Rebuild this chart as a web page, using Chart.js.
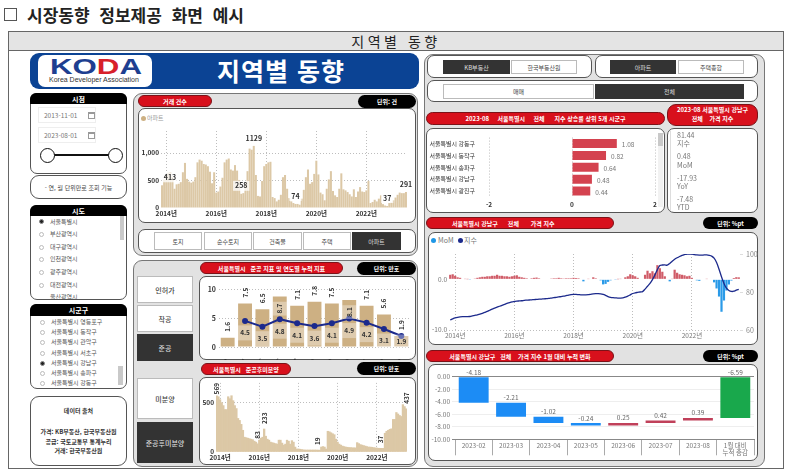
<!DOCTYPE html>
<html lang="ko">
<head>
<meta charset="utf-8">
<title>시장동향 정보제공 화면 예시</title>
<script src="https://cdn.jsdelivr.net/npm/chart.js@4"></script>
<style>
  html, body { margin:0; padding:0; background:#fff; }
  body { width:800px; height:475px; overflow:hidden; position:relative; font-family:"Noto Sans CJK KR","Noto Sans",sans-serif; color:#333; }
  .a { position:absolute; box-sizing:border-box; }
  .t { position:absolute; white-space:pre; line-height:1; }
  .c { display:flex; align-items:center; justify-content:center; white-space:pre; }
  .gray { background:#e2e2e2; border:1px solid #777; border-radius:9px; }
  .white { background:#fff; border:1px solid #555; border-radius:7px; }
  .red { background:#d8101c; border:1px solid #7c1218; border-radius:7px; color:#fff; font-size:6px; font-weight:700; }
  .black { background:#000; border-radius:7px; color:#fff; font-size:6px; font-weight:700; }
  .btn { background:#fff; border:1px solid #bbb; font-size:6px; color:#444; }
  .big { font-size:7px; font-weight:500; }
  .on { background:#333; border-color:#333; color:#ddd; }
  .head { background:#000; color:#fff; font-size:7px; font-weight:700; border-radius:6px 6px 0 0; }
  .date { background:#fff; border:1px solid #eee; font-size:6.5px; color:#777; padding-left:5px; display:flex; align-items:center; }
  .ico { position:absolute; width:5px; height:4px; border:1px solid #999; border-top-width:2px; }
  .radio { position:absolute; width:5px; height:5px; border:1px solid #bbb; border-radius:50%; background:#fff; box-sizing:border-box; }
  .radio.sel { background:#222; border-color:#888; }
  .li { position:absolute; font-size:6px; color:#555; line-height:1; white-space:pre; }
  .kpi { position:absolute; left:677px; font-size:7px; color:#777; line-height:1; }
  canvas { position:absolute; display:block; }
</style>
</head>
<body>
<!-- 상단 제목 -->
<div class="a" style="left:4px;top:8px;width:13px;height:13px;border:1px solid #555"></div>
<div class="t" style="left:27px;top:6px;font-size:17px;font-weight:700;color:#222;word-spacing:5px">시장동향 정보제공 화면 예시</div>

<div class="a" style="left:8px;top:31px;width:776px;height:438px;border:1px solid #666"></div>
<div class="a c" style="left:8px;top:31px;width:776px;height:20px;background:#e4e4e4;border:1px solid #666;font-size:14px;letter-spacing:3.5px;color:#222">지역별 동향</div>

<!-- 배너 -->
<div class="a" style="left:30px;top:53px;width:389px;height:36px;background:#0b4394;border-radius:9px"></div>
<div class="a" style="left:38px;top:55px;width:114px;height:32px;background:#fff;border-radius:7px"></div>
<div class="t" style="left:50px;top:56px;font-size:22px;font-weight:700;color:#1e3f90;font-family:'Liberation Sans';transform:scaleX(1.42);transform-origin:left top">KO<span style="color:#d8202a">D</span>A</div>
<div class="t" style="left:49px;top:76px;font-size:7px;color:#333;font-family:'Liberation Sans'">Korea Developer Association</div>
<div class="t" style="left:217px;top:58px;font-size:25px;font-weight:700;color:#fff;letter-spacing:1px">지역별 동향</div>

<!-- 왼쪽 필터 -->
<div class="a white" style="left:30px;top:93px;width:97px;height:81px;border-radius:7px"></div>
<div class="a head c" style="left:30px;top:93px;width:97px;height:11px">시점</div>
<div class="a date" style="left:38px;top:107px;width:58px;height:16px">2013-11-01</div><div class="ico" style="left:88px;top:112px"></div>
<div class="a date" style="left:38px;top:127px;width:58px;height:16px">2023-08-01</div><div class="ico" style="left:88px;top:132px"></div>
<div class="a" style="left:47px;top:154px;width:68px;height:2px;background:#111"></div>
<div class="a" style="left:40px;top:148px;width:15px;height:15px;border:1.5px solid #111;border-radius:50%;background:#fff"></div>
<div class="a" style="left:108px;top:148px;width:15px;height:15px;border:1.5px solid #111;border-radius:50%;background:#fff"></div>

<div class="a white c" style="left:30px;top:175px;width:97px;height:24px;border-radius:9px;font-size:6px;color:#444">- 연, 월 단위만로 조회 기능</div>

<div class="a white" style="left:30px;top:205px;width:97px;height:95px;overflow:hidden"></div>
<div class="a head c" style="left:30px;top:205px;width:97px;height:11px">시도</div>
<div class="a" style="left:120px;top:216px;width:4px;height:24px;background:#c9c9c9"></div>
<div class="radio sel" style="left:39px;top:219px"></div><div class="li" style="left:50px;top:219px">서울특별시</div>
<div class="radio" style="left:39px;top:232px"></div><div class="li" style="left:50px;top:231px">부산광역시</div>
<div class="radio" style="left:39px;top:245px"></div><div class="li" style="left:50px;top:244px">대구광역시</div>
<div class="radio" style="left:39px;top:257px"></div><div class="li" style="left:50px;top:256px">인천광역시</div>
<div class="radio" style="left:39px;top:270px"></div><div class="li" style="left:50px;top:269px">광주광역시</div>
<div class="radio" style="left:39px;top:283px"></div><div class="li" style="left:50px;top:282px">대전광역시</div>
<div class="a" style="left:38px;top:294px;width:80px;height:5px;overflow:hidden"><div class="li" style="left:12px;top:0">울산광역시</div></div>

<div class="a white" style="left:30px;top:304px;width:97px;height:85px"></div>
<div class="a head c" style="left:30px;top:304px;width:97px;height:12px">시군구</div>
<div class="a" style="left:118px;top:366px;width:5px;height:19px;background:#c9c9c9"></div>
<div class="radio" style="left:40px;top:320px"></div><div class="li" style="left:51px;top:319px">서울특별시 영등포구</div>
<div class="radio" style="left:40px;top:330px"></div><div class="li" style="left:51px;top:329px">서울특별시 동작구</div>
<div class="radio" style="left:40px;top:340px"></div><div class="li" style="left:51px;top:339px">서울특별시 관악구</div>
<div class="radio" style="left:40px;top:351px"></div><div class="li" style="left:51px;top:350px">서울특별시 서초구</div>
<div class="radio sel" style="left:40px;top:361px"></div><div class="li" style="left:51px;top:360px">서울특별시 강남구</div>
<div class="radio" style="left:40px;top:371px"></div><div class="li" style="left:51px;top:370px">서울특별시 송파구</div>
<div class="radio" style="left:40px;top:381px"></div><div class="li" style="left:51px;top:380px">서울특별시 강동구</div>

<div class="a white" style="left:30px;top:396px;width:97px;height:70px;border-radius:9px"></div>
<div class="t" style="left:30px;width:97px;top:408px;text-align:center;font-size:6px;font-weight:700;color:#333">데이터 출처</div>
<div class="t" style="left:30px;width:97px;top:429px;text-align:center;font-size:6px;font-weight:700;color:#333">가격: KB부동산, 한국부동산원</div>
<div class="t" style="left:30px;width:97px;top:439px;text-align:center;font-size:6px;font-weight:700;color:#333">공급: 국토교통부 통계누리</div>
<div class="t" style="left:30px;width:97px;top:448px;text-align:center;font-size:6px;font-weight:700;color:#333">거래: 한국부동산원</div>

<!-- 거래 건수 -->
<div class="a gray" style="left:133px;top:93px;width:285px;height:163px"></div>
<div class="a red c" style="left:138px;top:95px;width:74px;height:12px">거래 건수</div>
<div class="a black c" style="left:358px;top:95px;width:58px;height:13px">단위: 건</div>
<div class="a white" style="left:138px;top:108px;width:278px;height:115px"></div>
<div class="a" style="left:141px;top:116px;width:5px;height:5px;border-radius:50%;background:#cdb083"></div>
<div class="t" style="left:147px;top:115px;font-size:6px;color:#999">아파트</div>
<canvas id="dealChart" width="278" height="115" style="left:138px;top:108px"></canvas>
<div class="a white" style="left:138px;top:229px;width:278px;height:24px"></div>
<div class="a btn c" style="left:154px;top:232px;width:48px;height:18px">토지</div>
<div class="a btn c" style="left:204px;top:232px;width:48px;height:18px">순수토지</div>
<div class="a btn c" style="left:253px;top:232px;width:49px;height:18px">건축물</div>
<div class="a btn c" style="left:303px;top:232px;width:48px;height:18px">주택</div>
<div class="a btn on c" style="left:352px;top:232px;width:49px;height:18px">아파트</div>

<!-- 준공 -->
<div class="a gray" style="left:133px;top:260px;width:285px;height:207px"></div>
<div class="a red c" style="left:200px;top:262px;width:143px;height:12px;font-size:6px">서울특별시   준공 지표 및 연도별 누적 지표</div>
<div class="a black c" style="left:357px;top:262px;width:59px;height:13px">단위: 만호</div>
<div class="a btn big c" style="left:137px;top:276px;width:56px;height:27px">인허가</div>
<div class="a btn big c" style="left:137px;top:305px;width:56px;height:27px">착공</div>
<div class="a btn big on c" style="left:137px;top:334px;width:56px;height:27px">준공</div>
<div class="a white" style="left:199px;top:276px;width:217px;height:84px"></div>
<canvas id="doneChart" width="217" height="84" style="left:199px;top:276px"></canvas>
<div class="a red c" style="left:201px;top:363px;width:90px;height:12px">서울특별시   준공후미분양</div>
<div class="a black c" style="left:357px;top:362px;width:59px;height:13px">단위: 만호</div>
<div class="a btn big c" style="left:137px;top:378px;width:56px;height:41px">미분양</div>
<div class="a btn big on c" style="left:137px;top:422px;width:56px;height:41px">준공후미분양</div>
<div class="a white" style="left:199px;top:377px;width:217px;height:88px"></div>
<canvas id="unsoldChart" width="217" height="88" style="left:199px;top:377px"></canvas>

<!-- 오른쪽 -->
<div class="a gray" style="left:424px;top:54px;width:341px;height:413px"></div>
<div class="a white" style="left:427px;top:55px;width:165px;height:23px"></div>
<div class="a btn on c" style="left:443px;top:60px;width:67px;height:14px">KB부동산</div>
<div class="a btn c" style="left:511px;top:60px;width:66px;height:14px">한국부동산원</div>
<div class="a white" style="left:595px;top:55px;width:163px;height:23px"></div>
<div class="a btn on c" style="left:610px;top:60px;width:66px;height:14px">아파트</div>
<div class="a btn c" style="left:678px;top:60px;width:66px;height:14px">주택종합</div>
<div class="a white" style="left:427px;top:80px;width:331px;height:22px"></div>
<div class="a btn c" style="left:443px;top:84px;width:151px;height:15px">매매</div>
<div class="a btn on c" style="left:595px;top:84px;width:149px;height:15px">전체</div>

<div class="a red c" style="left:426px;top:112px;width:239px;height:13px">2023-08     서울특별시     전체      지수 상승률 상위 5개 시군구</div>
<div class="a red c" style="left:667px;top:104px;width:91px;height:22px;border-radius:9px;line-height:1.45;text-align:center">2023-08 서울특별시 강남구
전체    가격 지수</div>
<div class="a white" style="left:426px;top:128px;width:239px;height:85px"></div>
<canvas id="topChart" width="239" height="85" style="left:426px;top:128px"></canvas>
<div class="a" style="left:658px;top:133px;width:5px;height:74px;background:#f2f2f2"></div>
<div class="a" style="left:658px;top:133px;width:5px;height:13px;background:#c9c9c9"></div>
<div class="a white" style="left:667px;top:128px;width:91px;height:85px"></div>
<div class="a" style="left:670px;top:131px;width:1px;height:80px;background:#ddd"></div>
<div class="kpi" style="top:132px">81.44</div><div class="kpi" style="top:140px">지수</div>
<div class="kpi" style="top:153px">0.48</div><div class="kpi" style="top:162px">MoM</div>
<div class="kpi" style="top:175px">-17.93</div><div class="kpi" style="top:183px">YoY</div>
<div class="kpi" style="top:196px">-7.48</div><div class="kpi" style="top:204px">YTD</div>

<div class="a red c" style="left:426px;top:217px;width:188px;height:12px">서울특별시 강남구      전체       가격 지수                    </div>
<div class="a black c" style="left:703px;top:217px;width:55px;height:12px">단위: %pt</div>
<div class="a white" style="left:428px;top:232px;width:330px;height:113px"></div>
<div class="a" style="left:431px;top:238px;width:5px;height:5px;border-radius:50%;background:#1f97e6"></div>
<div class="t" style="left:438px;top:237px;font-size:7px;color:#777">MoM</div>
<div class="a" style="left:458px;top:238px;width:5px;height:5px;border-radius:50%;background:#1c2a8c"></div>
<div class="t" style="left:464px;top:237px;font-size:7px;color:#777">지수</div>
<canvas id="priceChart" width="330" height="113" style="left:428px;top:232px"></canvas>

<div class="a red c" style="left:426px;top:350px;width:188px;height:12px">서울특별시 강남구   전체    가격 지수 1월 대비 누적 변화</div>
<div class="a black c" style="left:703px;top:350px;width:55px;height:12px">단위: %pt</div>
<div class="a white" style="left:428px;top:364px;width:330px;height:97px"></div>
<canvas id="stepChart" width="330" height="97" style="left:428px;top:364px"></canvas>

<script>
// ─── 데이터 ───────────────────────────────────────────────
const years = ['2013','2014','2015','2016','2017','2018','2019','2020','2021','2022','2023'];

const dealMonths = [];
for (let y = 2013; y <= 2023; y++) for (let m = 1; m <= 12; m++) {
  if ((y === 2013 && m < 11) || (y === 2023 && m > 8)) continue;
  dealMonths.push(y + '-' + String(m).padStart(2, '0'));
}

const dealCounts = [
  413,520,
  600,640,650,570,350,430,440,470,650,820,530,480,
  460,480,560,830,880,860,800,790,760,660,450,650,
  280,300,390,550,830,880,900,700,680,780,680,510,
  258,270,470,670,1080,1060,1129,600,220,210,490,760,
  800,830,840,200,180,120,150,240,560,600,350,180,
  120,90,74,74,60,170,330,560,700,440,470,620,
  860,610,280,250,140,350,520,670,310,230,200,350,
  630,340,320,290,250,210,340,200,300,380,300,290,
  320,490,90,110,150,120,170,230,70,45,37,90,
  100,140,190,240,280,270,270,291
];
const dealMarked = [0, 38, 44, 64, 108, 117];

const doneTotal = [1.6,7.5,6.5,8.7,7.1,7.8,7.5,8.1,7.1,5.6,1.9];
const doneYtd   = [null,4.5,3.5,4.8,4.1,3.6,4.1,4.9,4.2,3.1,1.9];

const unsoldCounts = [
  569,560,
  530,500,470,430,430,560,540,570,520,470,440,340,
  320,280,220,150,145,140,135,130,125,110,100,83,
  120,140,150,233,160,130,120,100,95,90,85,80,
  120,120,90,70,80,120,110,80,115,100,50,30,
  30,28,25,22,20,20,20,20,20,20,20,20,
  19,19,50,55,50,30,210,205,195,185,175,130,
  100,80,70,60,55,50,48,45,45,43,42,42,
  95,85,75,70,65,60,55,50,50,48,45,42,
  40,38,37,37,37,190,210,220,230,235,330,330,
  400,385,370,360,480,460,437
];
const unsoldMarked = [0, 25, 29, 62, 100, 116];

const topRegions = ['서울특별시 강동구','서울특별시 동작구','서울특별시 송파구','서울특별시 강남구','서울특별시 광진구'];
const topRates = [1.08,0.82,0.64,0.48,0.44];

const priceMom = [
  0.9,1.0,
  0.7,0.4,0.3,0.1,0.05,0.02,-0.05,0.1,0.15,0.3,0.4,0.5,
  0.5,0.6,0.6,0.7,0.7,0.9,0.7,0.7,0.6,0.6,0.5,0.6,
  0.7,0.8,0.5,0.4,0.3,0.2,0.1,0.2,0.3,0.35,0.2,0.1,
  0.1,0.1,0.1,0.15,0.2,0.2,0.3,0.2,0.15,0.2,0.2,0.2,
  0.3,0.25,0.2,0.1,-0.4,-0.1,0.05,0.1,0.4,0.2,-0.1,-0.2,
  -1.0,-0.9,-0.5,-0.2,-0.1,-0.05,0.02,0.05,0.1,0.4,0.6,1.0,
  0.8,0.6,0.3,0.1,0.1,0.9,1.7,1.2,1.6,1.2,2.8,2.2,
  1.5,0.6,0.1,-0.4,0.05,1.9,1.3,1.0,0.9,0.8,0.6,0.7,
  0.3,0.1,-0.2,-0.3,-0.1,-0.1,0.05,0.1,-0.1,-0.6,-1.8,-3.4,
  -6.4,-4.18,-2.21,-1.02,-0.24,0.25,0.42,0.39
];
const priceIndex = [
  65.3,65.9,
  66.4,66.7,66.9,67.0,67.0,67.0,67.1,67.4,67.7,68.0,68.4,68.8,
  69.3,69.8,70.4,71.0,71.5,72.0,72.5,73.0,73.5,74.0,74.4,74.8,
  75.0,75.2,75.3,75.4,75.6,75.7,75.8,75.9,76.0,76.1,76.2,76.3,
  76.4,76.5,76.6,76.8,77.0,77.2,77.4,77.6,77.8,78.1,78.4,78.6,
  78.7,78.7,78.6,78.5,78.5,78.5,78.6,78.8,79.0,79.1,79.1,79.0,
  78.7,78.2,77.6,77.2,77.0,76.9,76.8,76.8,76.9,77.3,77.8,78.5,
  79.2,79.6,79.8,80.0,80.2,81.5,83.0,84.5,86.5,89.0,91.8,94.0,
  94.2,94.3,94.1,95.0,96.2,97.2,98.0,98.7,99.3,99.7,100,100,
  100,99.7,99.5,99.4,99.4,99.5,99.5,99.3,98.9,97.8,95.5,92,
  88,84.5,82,80.8,80.3,80.4,81,81.44
];

const stepMonths = ['2023-02','2023-03','2023-04','2023-05','2023-06','2023-07','2023-08',['1월 대비','누적 증감']];
const stepDelta = [-4.18,-2.21,-1.02,-0.24,0.25,0.42,0.39];
const stepTotal = -6.59;

// ─── 공통 설정 ─────────────────────────────────────────────
const TAN = '#cdb083', TAN_LIGHT = '#dcc8a6', NAVY = '#1c2a8c', DOT = '#bdbdbd';

Chart.defaults.font.family = "'Noto Sans CJK KR','Noto Sans',sans-serif";
Chart.defaults.font.size = 7;
Chart.defaults.animation = false;
Chart.defaults.responsive = false;
Chart.defaults.plugins.legend.display = false;
Chart.defaults.plugins.tooltip.enabled = false;

const fixW = w => s => { s.width = w; };
const fixH = h => s => { s.height = h; };
const isEvenJan = v => /^20(14|16|18|20|22)-01$/.test(v);

// 월 축: 짝수 해 1월만 눈금과 점선을 남긴다
function yearAxis(h, color, weight) {
  return {
    afterFit: fixH(h),
    afterBuildTicks: s => { s.ticks = s.ticks.filter(t => isEvenJan(s.getLabelForValue(t.value))); },
    border: { display:false, dash:[1,2] },
    grid: { color:DOT, offset:false, drawTicks:false },
    ticks: {
      autoSkip:false, maxRotation:0, padding:2, color, font:{ size:6.5, weight },
      callback(v) { return this.getLabelForValue(v).slice(0, 4) + '년'; },
    },
  };
}

// 값 라벨 플러그인
function valueLabels(sets) {
  return {
    id: 'valueLabels',
    afterDatasetsDraw(chart) {
      const c = chart.ctx, area = chart.chartArea;
      sets.forEach(o => {
        const meta = chart.getDatasetMeta(o.ds || 0);
        o.idx.forEach(i => {
          const el = meta.data[i];
          const txt = o.text(i);
          const top = Math.min(el.y, el.base === undefined ? el.y : el.base);
          c.save();
          c.font = (o.weight || 700) + ' ' + (o.size || 7) + "px " + Chart.defaults.font.family;
          const ink = o.color || '#333';
          c.fillStyle = ink;
          const w = c.measureText(txt).width;
          if (o.rotate) {
            const y = Math.max(top - o.gap, area.top + w);
            if (o.band) {
              c.fillStyle = 'rgba(255,255,255,.35)';
              c.fillRect(el.x - o.band / 2, y - w - 2, o.band, w + 4);
              c.fillStyle = ink;
            }
            c.translate(el.x, y);
            c.rotate(-Math.PI / 2);
            c.textAlign = 'left'; c.textBaseline = 'middle';
            c.fillText(txt, 0, 0);
          } else {
            let y = top + o.gap;
            const x = o.minX ? Math.max(el.x, area.left + o.minX) : el.x;
            if (o.maxY) y = Math.min(y, area.bottom - o.maxY);
            if (o.band) {
              c.fillStyle = 'rgba(255,255,255,.35)';
              c.fillRect(x - o.band / 2, y - 7.5, o.band, 15);
              c.fillStyle = ink;
            } else if (o.bg) {
              c.fillStyle = o.bg;
              c.fillRect(x - w / 2 - 2, y - 5, w + 4, 10);
              c.fillStyle = ink;
            }
            c.textAlign = 'center'; c.textBaseline = 'middle';
            c.fillText(txt, x, y);
          }
          c.restore();
        });
      });
    },
  };
}

// ─── 거래 건수 ─────────────────────────────────────────────
new Chart(document.getElementById('dealChart'), {
  type: 'bar',
  data: { labels: dealMonths, datasets: [{ data: dealCounts, backgroundColor: TAN_LIGHT, barPercentage: .97, categoryPercentage: 1 }] },
  options: {
    layout: { padding: { top: 23, right: 9 } },
    scales: {
      x: yearAxis(15, '#333', 700),
      y: {
        min: 0, max: 1400, afterFit: fixW(23),
        afterBuildTicks: s => { s.ticks = [0, 500, 1000].map(value => ({ value })); },
        border: { display:false, dash:[1,2] },
        grid: { color: c => c.tick.value ? DOT : 'transparent', drawTicks:false },
        ticks: { padding:2, color:'#333', font:{ size:6.5, weight:700 }, callback: v => v.toLocaleString('en-US') },
      },
    },
  },
  plugins: [valueLabels([{ idx: dealMarked, gap: -8, minX: 9, bg: 'rgba(255,255,255,.75)', text: i => String(dealCounts[i]) }])],
});

// ─── 준공 ─────────────────────────────────────────────────
new Chart(document.getElementById('doneChart'), {
  type: 'bar',
  data: {
    labels: years,
    datasets: [
      { type:'bar', data: doneTotal, backgroundColor: TAN, barPercentage: .8, categoryPercentage: 1, order: 2 },
      { type:'line', data: doneYtd, borderColor: NAVY, backgroundColor: NAVY, borderWidth: 2, pointRadius: 2, tension: 0, order: 1 },
    ],
  },
  options: {
    layout: { padding: { top: 4, right: 5 } },
    scales: {
      x: {
        afterFit: fixH(13),
        border: { display:false },
        grid: { display:false },
        ticks: { padding:2, color:'#333', font:{ size:7, weight:700 } },
      },
      y: {
        min: 0, max: 11, afterFit: fixW(20),
        afterBuildTicks: s => { s.ticks = [0, 5, 10].map(value => ({ value })); },
        border: { display:false, dash:[1,2] },
        grid: { color: DOT, drawTicks:false },
        ticks: { padding:3, color:'#333', font:{ size:7, weight:700 } },
      },
    },
  },
  plugins: [valueLabels([
    { idx:[0,1,2,4,5,6,8,9,10], rotate:true, size:6.5, gap:6, text: i => String(doneTotal[i]) },
    { idx:[3,7], rotate:true, size:6.5, gap:-17, band:14, text: i => String(doneTotal[i]) },
    { ds:1, idx:[1,2,3,4,5,6,7,8,9,10], size:6.5, gap:12, maxY:5, band:14, text: i => doneYtd[i].toFixed(1) },
  ])],
});

// ─── 준공후미분양 ──────────────────────────────────────────
new Chart(document.getElementById('unsoldChart'), {
  type: 'bar',
  data: { labels: dealMonths.slice(0, unsoldCounts.length), datasets: [{ data: unsoldCounts, backgroundColor: TAN_LIGHT, barPercentage: 1, categoryPercentage: 1 }] },
  options: {
    layout: { padding: { top: 5, right: 9 } },
    scales: {
      x: yearAxis(13, '#333', 700),
      y: {
        min: 0, max: 700, afterFit: fixW(17),
        afterBuildTicks: s => { s.ticks = [0, 500].map(value => ({ value })); },
        border: { display:false, dash:[1,2] },
        grid: { color: c => c.tick.value ? DOT : 'transparent', drawTicks:false },
        ticks: { padding:2, color:'#333', font:{ size:6.5, weight:700 } },
      },
    },
  },
  plugins: [valueLabels([{ idx: unsoldMarked, rotate:true, size:6.5, gap:5, text: i => String(unsoldCounts[i]) }])],
});

// ─── 지수 상승률 상위 5개 ──────────────────────────────────
new Chart(document.getElementById('topChart'), {
  type: 'bar',
  data: { labels: topRegions, datasets: [{ data: topRates, backgroundColor: '#d4424f', barPercentage: .75, categoryPercentage: 1 }] },
  options: {
    indexAxis: 'y',
    layout: { padding: { top: 8, right: 10 } },
    scales: {
      x: {
        min: -2, max: 2, afterFit: fixH(16),
        ticks: { stepSize: 2, padding: 4, color:'#333', font:{ size:6.5, weight:700 } },
        border: { display:false, dash:[1,2] },
        grid: { color: DOT, drawTicks:false },
      },
      y: {
        afterFit: fixW(63),
        border: { display:false },
        grid: { display:false },
        ticks: { padding:6, color:'#333', font:{ size:6 } },
      },
    },
  },
  plugins: [{
    id: 'rateLabels',
    afterDatasetsDraw(chart) {
      const c = chart.ctx;
      c.save();
      c.font = '6.5px ' + Chart.defaults.font.family;
      c.fillStyle = '#777';
      c.textBaseline = 'middle';
      chart.getDatasetMeta(0).data.forEach((el, i) => c.fillText(topRates[i].toFixed(2), el.x + 5, el.y + 1));
      c.restore();
    },
  }],
});

// ─── 가격 지수 ─────────────────────────────────────────────
new Chart(document.getElementById('priceChart'), {
  type: 'bar',
  data: {
    labels: dealMonths,
    datasets: [
      { type:'bar', data: priceMom, yAxisID:'y', backgroundColor: priceMom.map(v => v < 0 ? '#2a9ae8' : '#d05c68'), barPercentage: .9, categoryPercentage: 1, order: 2 },
      { type:'line', data: priceIndex, yAxisID:'yr', borderColor: NAVY, borderWidth: 1.3, pointRadius: 0, tension: .3, order: 1 },
    ],
  },
  options: {
    layout: { padding: { top: 22 } },
    scales: {
      x: yearAxis(15, '#777', 400),
      y: {
        min: -10, max: 5, afterFit: fixW(21),
        afterBuildTicks: s => { s.ticks = [-10, 0].map(value => ({ value })); },
        border: { display:false, dash:[1,2] },
        grid: { color: c => c.tick.value === -10 ? DOT : 'transparent', drawTicks:false },
        ticks: { padding:2, color:'#777', font:{ size:6.5 }, callback: v => v.toFixed(1) },
      },
      yr: {
        position:'right', min: 60, max: 100, afterFit: fixW(18),
        afterBuildTicks: s => { s.ticks = [60, 80, 100].map(value => ({ value })); },
        border: { display:false },
        grid: { drawOnChartArea:false, color:'#ddd', tickLength:3 },
        ticks: { padding:3, color:'#888', font:{ size:7 } },
      },
    },
  },
});

// ─── 1월 대비 누적 변화 (폭포형) ───────────────────────────
const stepBars = [];
let stepRun = 0;
stepDelta.forEach(d => { stepBars.push([stepRun, stepRun + d]); stepRun += d; });
stepBars.push([0, stepTotal]);
const stepValues = stepDelta.concat(stepTotal);

new Chart(document.getElementById('stepChart'), {
  type: 'bar',
  data: {
    labels: stepMonths,
    datasets: [{
      data: stepBars,
      backgroundColor: stepValues.map((v, i) => i === stepDelta.length ? '#19a84c' : v < 0 ? '#1c8cf5' : '#c0405a'),
      barPercentage: .8, categoryPercentage: 1, minBarLength: 2.5,
    }],
  },
  options: {
    layout: { padding: { top: 12.7, right: 4 } },
    scales: {
      x: {
        afterFit: fixH(21.7),
        border: { display:true, color:'#888' },
        grid: { drawOnChartArea:false, color:'#aaa', tickLength:16 },
        ticks: { padding:-14, color:'#777', maxRotation:0, autoSkip:false, font:{ size:6.5 } },
      },
      y: {
        min: -10, max: 0, afterFit: fixW(27),
        ticks: { stepSize: 2, padding: 2, color:'#777', font:{ size:6.5 }, callback: v => v.toFixed(2) },
        border: { display:false },
        grid: { color: c => c.tick.value === 0 || c.tick.value === -10 ? '#888' : '#eee', tickLength:3 },
      },
    },
  },
  plugins: [valueLabels([{ idx: stepValues.map((v, i) => i), gap:-5, weight:400, size:6.5, color:'#666', text: i => stepValues[i].toFixed(2) }])],
});
</script>
</body>
</html>
